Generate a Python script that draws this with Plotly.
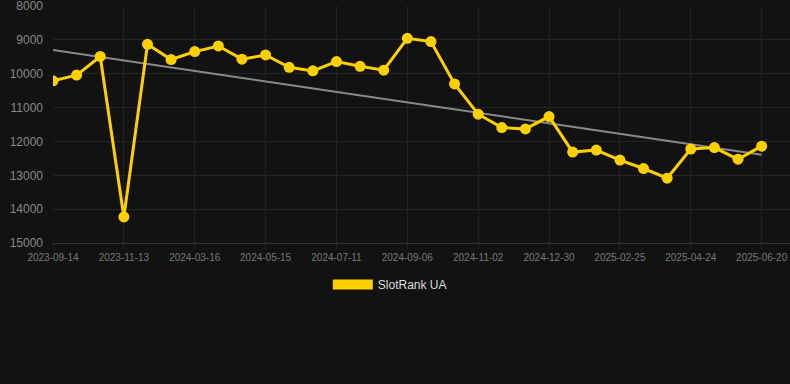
import plotly.graph_objects as go

dates = [
    "2023-09-14", "2023-10-04", "2023-10-24", "2023-11-13", "2024-01-04",
    "2024-02-24", "2024-03-16", "2024-04-04", "2024-04-24", "2024-05-15",
    "2024-06-03", "2024-06-22", "2024-07-11", "2024-07-30", "2024-08-18",
    "2024-09-06", "2024-09-25", "2024-10-14", "2024-11-02", "2024-11-21",
    "2024-12-10", "2024-12-30", "2025-01-18", "2025-02-06", "2025-02-25",
    "2025-03-16", "2025-04-04", "2025-04-24", "2025-05-13", "2025-06-01",
    "2025-06-20",
]
rank = [
    10210, 10040, 9490, 14230, 9130, 9580, 9345, 9180, 9570, 9445,
    9810, 9915, 9640, 9780, 9895, 8955, 9050, 10300, 11195, 11590,
    11630, 11265, 12315, 12255, 12550, 12800, 13085, 12225, 12180, 12525,
    12140,
]
tick_labels = [
    "2023-09-14", "2023-11-13", "2024-03-16", "2024-05-15", "2024-07-11",
    "2024-09-06", "2024-11-02", "2024-12-30", "2025-02-25", "2025-04-24",
    "2025-06-20",
]
trend_x = [dates[0], dates[-1]]
trend_y = [9300, 12395]
y_ticks = [8000, 9000, 10000, 11000, 12000, 13000, 14000, 15000]

YELLOW = "#FFD000"
BG = "#121212"
GRID = "#232323"

fig = go.Figure()
fig.add_trace(go.Scatter(
    x=trend_x, y=trend_y, mode="lines",
    line=dict(color="#8a8a8a", width=2),
    showlegend=False, hoverinfo="skip",
))
fig.add_trace(go.Scatter(
    x=dates, y=rank, mode="lines+markers", name="SlotRank UA",
    line=dict(color=YELLOW, width=3),
    marker=dict(color=YELLOW, size=11),
    showlegend=False,
))
fig.add_trace(go.Scatter(
    x=[None], y=[None], mode="lines", name="SlotRank UA",
    line=dict(color=YELLOW, width=12),
    showlegend=True,
))

fig.update_layout(
    width=790, height=384,
    paper_bgcolor=BG, plot_bgcolor=BG,
    margin=dict(l=53, r=0, t=6, b=141),
    font=dict(family="Liberation Sans, Arial, sans-serif", color="#888"),
    showlegend=True,
    legend=dict(
        orientation="h", x=0.457, xanchor="center", y=-0.175, yanchor="middle",
        font=dict(size=12, color="#dddddd"), itemwidth=40,
        bgcolor="rgba(0,0,0,0)",
    ),
)
fig.update_xaxes(
    type="category", categoryorder="array", categoryarray=dates,
    range=[0, 31.2],
    tickmode="array", tickvals=tick_labels, ticktext=tick_labels,
    tickfont=dict(size=10, color="#777"),
    showgrid=True, gridcolor=GRID, gridwidth=1,
    ticks="outside", ticklen=5, tickcolor=GRID,
    showline=True, linecolor="#333", linewidth=1,
    zeroline=False, ticklabeloverflow="allow",
)
fig.update_yaxes(
    range=[15000, 7999],
    tickmode="array", tickvals=y_ticks, ticktext=[str(v) for v in y_ticks],
    tickfont=dict(size=12, color="#888"),
    showgrid=True, gridcolor=GRID, gridwidth=1,
    ticks="", ticklabelstandoff=9,
    showline=False, zeroline=False, ticklabeloverflow="allow",
)

fig.write_html(
    "out.html",
    config={"displayModeBar": False},
    post_script="document.body.style.margin='0';document.body.style.background='#121212';",
)
